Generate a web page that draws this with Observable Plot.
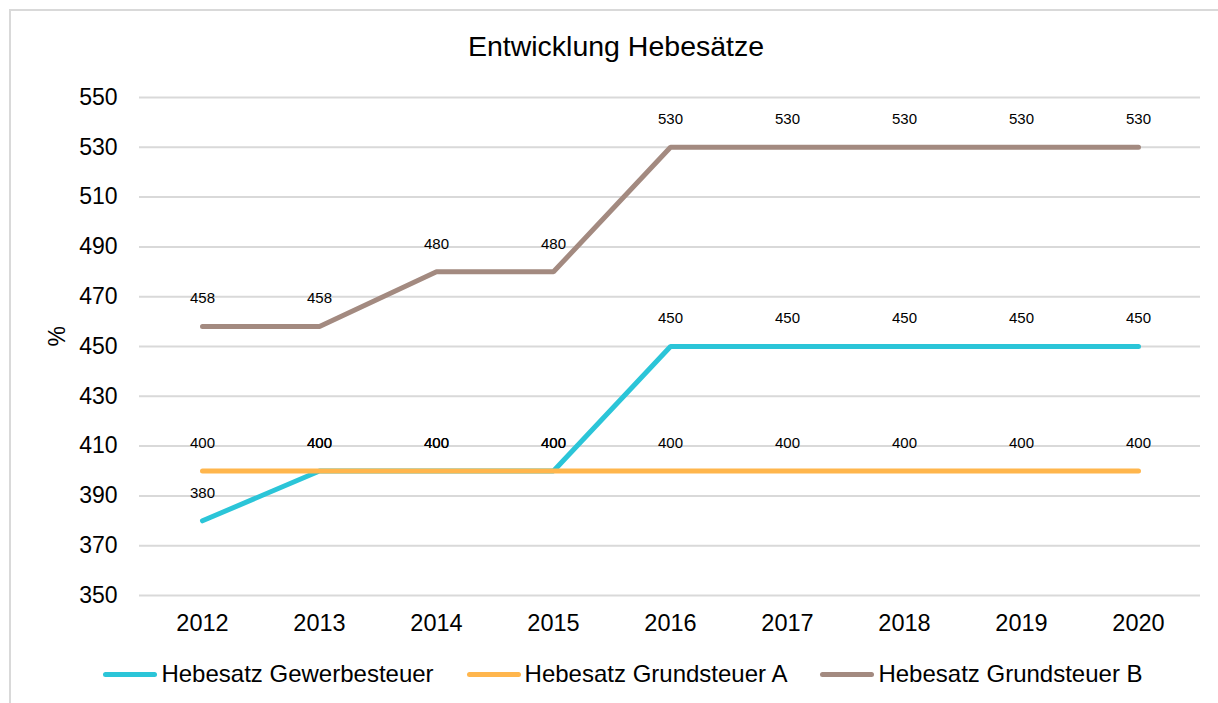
<!DOCTYPE html>
<html>
<head>
<meta charset="utf-8">
<script src="https://cdn.jsdelivr.net/npm/d3@7"></script>
<script src="https://cdn.jsdelivr.net/npm/@observablehq/plot@0.6"></script>
<style>
  html, body { margin: 0; padding: 0; background: #fff; }
  body { width: 1218px; height: 703px; overflow: hidden; font-family: "Liberation Sans", Arial, sans-serif; }
  #frame { position: absolute; left: 9px; top: 9px; width: 1230px; height: 720px;
           border-left: 2px solid #d9d9d9; border-top: 2px solid #d9d9d9; box-sizing: border-box; }
  #wrap { position: absolute; left: 0; top: 0; width: 1218px; }
  #title { height: 61px; box-sizing: border-box; padding-top: 31px; font-size: 28.5px; line-height: 30px;
           text-align: center; padding-left: 14px; color: #000; }
  #legend { display: flex; justify-content: center; align-items: center; gap: 33px; padding-top: 15px;
            font-size: 24px; line-height: 28px; color: #000; padding-left: 28px; }
  .item { display: flex; align-items: center; gap: 4px; }
  .sw { width: 54px; height: 5px; border-radius: 3px; }
</style>
</head>
<body>
<div id="frame"></div>
<div id="wrap">
  <div id="title">Entwicklung Hebesätze</div>
  <div id="chart"></div>
  <div id="legend"></div>
</div>
<script>
const years = [2012, 2013, 2014, 2015, 2016, 2017, 2018, 2019, 2020];
const seriesNames = ["Hebesatz Gewerbesteuer", "Hebesatz Grundsteuer A", "Hebesatz Grundsteuer B"];
const gewerbesteuer = [380, 400, 400, 400, 450, 450, 450, 450, 450];
const grundsteuerA = [400, 400, 400, 400, 400, 400, 400, 400, 400];
const grundsteuerB = [458, 458, 480, 480, 530, 530, 530, 530, 530];
const colors = ["#2bc5d8", "#ffb64d", "#a38a80"];
const yTicks = [350, 370, 390, 410, 430, 450, 470, 490, 510, 530, 550];

const valuesBySeries = [gewerbesteuer, grundsteuerA, grundsteuerB];
const data = [];
seriesNames.forEach((s, i) => years.forEach((yr, j) => data.push({ series: s, year: yr, value: valuesBySeries[i][j] })));

const chart = Plot.plot({
  width: 1218,
  height: 584,
  marginLeft: 139,
  marginRight: 18,
  marginTop: 36,
  marginBottom: 50,
  style: { fontFamily: "Liberation Sans, Arial, sans-serif", background: "transparent", overflow: "visible" },
  x: { type: "point", domain: years, padding: 0.5, label: null },
  y: { domain: [350, 550], ticks: yTicks, label: null },
  color: { domain: seriesNames, range: colors },
  marks: [
    Plot.ruleY(yTicks, { stroke: "#d9d9d9", strokeWidth: 2 }),
    Plot.axisX({ tickSize: 0, tickPadding: 19, fontSize: 23.5, label: null, tickFormat: d => String(d) }),
    Plot.axisY({ ticks: yTicks, tickSize: 0, tickPadding: 22, fontSize: 23, label: null }),
    Plot.text(["%"], { frameAnchor: "left", dx: -82, rotate: -90, fontSize: 23, fill: "#000" }),
    Plot.line(data, { x: "year", y: "value", z: "series", stroke: "series", strokeWidth: 5,
                      strokeLinejoin: "miter", strokeLinecap: "round", curve: "linear" }),
    Plot.text(data, { x: "year", y: "value", text: d => String(d.value), dy: -28, fontSize: 15, fill: "#000" })
  ]
});
document.getElementById("chart").appendChild(chart);

const legend = document.getElementById("legend");
seriesNames.forEach((s, i) => {
  const item = document.createElement("div");
  item.className = "item";
  const sw = document.createElement("div");
  sw.className = "sw";
  sw.style.background = colors[i];
  const t = document.createElement("span");
  t.textContent = s;
  item.appendChild(sw);
  item.appendChild(t);
  legend.appendChild(item);
});
</script>
</body>
</html>
